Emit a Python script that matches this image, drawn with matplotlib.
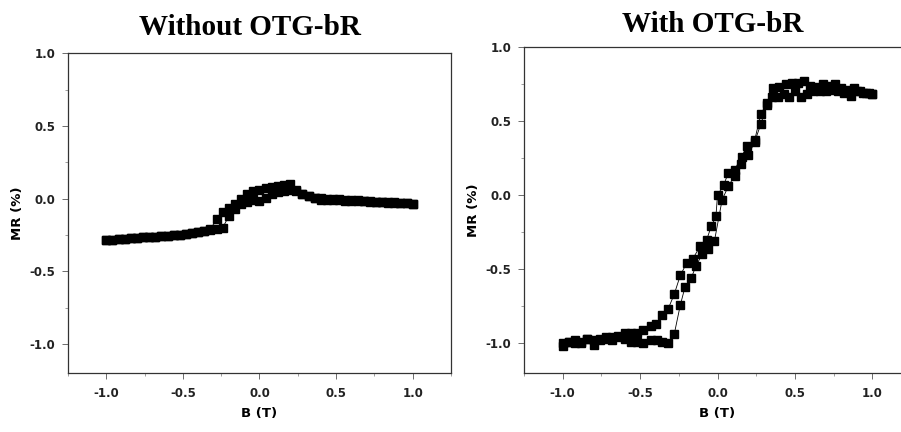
import matplotlib
matplotlib.use("Agg")
import matplotlib.pyplot as plt
from matplotlib.ticker import MultipleLocator, FormatStrFormatter

plt.rcParams["axes.unicode_minus"] = False
plt.rcParams["font.family"] = ["DejaVu Sans"]

# Without OTG-bR: sweep up (-1 -> 1) and back down (1 -> -1)
b_up_left = [-1.00, -0.96, -0.92, -0.88, -0.84, -0.80, -0.76, -0.72, -0.68, -0.64,
             -0.60, -0.56, -0.52, -0.48, -0.44, -0.40, -0.36, -0.32, -0.28, -0.24,
             -0.20, -0.16, -0.12, -0.08, -0.04, 0.00, 0.04, 0.08, 0.12, 0.16,
             0.20, 0.24, 0.28, 0.32, 0.36, 0.40, 0.44, 0.48, 0.52, 0.56,
             0.60, 0.64, 0.68, 0.72, 0.76, 0.80, 0.84, 0.88, 0.92, 0.96, 1.00]
mr_up_left = [-0.286, -0.282, -0.278, -0.275, -0.272, -0.270, -0.267, -0.264, -0.262, -0.259,
              -0.256, -0.253, -0.250, -0.246, -0.240, -0.233, -0.226, -0.219, -0.212, -0.200,
              -0.120, -0.070, -0.040, -0.020, -0.010, -0.016, 0.007, 0.035, 0.045, 0.050,
              0.060, 0.050, 0.035, 0.020, 0.005, -0.008, -0.010, -0.010, -0.012, -0.014,
              -0.016, -0.016, -0.018, -0.020, -0.022, -0.025, -0.027, -0.028, -0.030, -0.032, -0.034]
b_down_left = [1.00, 0.96, 0.92, 0.88, 0.84, 0.80, 0.76, 0.72, 0.68, 0.64,
               0.60, 0.56, 0.52, 0.48, 0.44, 0.40, 0.36, 0.32, 0.28, 0.24,
               0.20, 0.16, 0.12, 0.08, 0.04, 0.00, -0.04, -0.08, -0.12, -0.16,
               -0.20, -0.24, -0.28, -0.32, -0.36, -0.40, -0.44, -0.48, -0.52, -0.56,
               -0.60, -0.64, -0.68, -0.72, -0.76, -0.80, -0.84, -0.88, -0.92, -0.96, -1.00]
mr_down_left = [-0.034, -0.030, -0.028, -0.026, -0.024, -0.022, -0.020, -0.017, -0.015, -0.012,
                -0.010, -0.008, -0.005, -0.003, 0.000, 0.002, 0.007, 0.020, 0.035, 0.060,
                0.100, 0.094, 0.087, 0.080, 0.070, 0.060, 0.050, 0.030, 0.000, -0.040,
                -0.065, -0.090, -0.140, -0.210, -0.222, -0.230, -0.238, -0.244, -0.248, -0.252,
                -0.255, -0.258, -0.261, -0.264, -0.267, -0.270, -0.273, -0.276, -0.279, -0.282, -0.284]

# With OTG-bR
b_up_right = [-1.00, -0.96, -0.92, -0.88, -0.84, -0.80, -0.76, -0.72, -0.68, -0.64,
              -0.60, -0.56, -0.52, -0.48, -0.43, -0.39, -0.36, -0.32, -0.28, -0.24,
              -0.21, -0.17, -0.14, -0.10, -0.06, -0.02, 0.03, 0.07, 0.11, 0.15,
              0.20, 0.24, 0.28, 0.32, 0.35, 0.39, 0.43, 0.46, 0.50, 0.54,
              0.58, 0.62, 0.66, 0.70, 0.74, 0.78, 0.82, 0.86, 0.90, 0.94, 0.98, 1.00]
mr_up_right = [-1.02, -0.99, -1.00, -1.00, -0.97, -1.01, -0.98, -0.97, -0.98, -0.96,
               -0.97, -0.99, -0.99, -1.00, -0.98, -0.98, -0.99, -1.00, -0.94, -0.74,
               -0.62, -0.56, -0.48, -0.40, -0.36, -0.31, -0.03, 0.06, 0.13, 0.21,
               0.27, 0.36, 0.48, 0.61, 0.66, 0.66, 0.68, 0.66, 0.70, 0.66,
               0.68, 0.70, 0.70, 0.70, 0.71, 0.70, 0.69, 0.67, 0.70, 0.69, 0.69, 0.68]
b_down_right = [1.00, 0.96, 0.92, 0.88, 0.84, 0.80, 0.76, 0.72, 0.68, 0.64,
                0.60, 0.56, 0.52, 0.48, 0.44, 0.40, 0.36, 0.32, 0.28, 0.24,
                0.19, 0.155, 0.11, 0.07, 0.04, 0.00, -0.01, -0.04, -0.07, -0.11,
                -0.16, -0.20, -0.24, -0.28, -0.32, -0.36, -0.40, -0.43, -0.48, -0.52,
                -0.56, -0.60, -0.64, -0.68, -0.72, -0.76, -0.80, -0.84, -0.88, -0.92, -0.96, -1.00]
mr_down_right = [0.68, 0.69, 0.70, 0.72, 0.71, 0.72, 0.75, 0.74, 0.75, 0.73,
                 0.74, 0.77, 0.76, 0.76, 0.75, 0.73, 0.72, 0.62, 0.55, 0.37,
                 0.33, 0.26, 0.17, 0.15, 0.07, 0.00, -0.14, -0.21, -0.30, -0.34,
                 -0.43, -0.46, -0.54, -0.67, -0.77, -0.81, -0.87, -0.88, -0.91, -0.93,
                 -0.93, -0.93, -0.95, -0.96, -0.96, -0.97, -0.98, -0.97, -0.99, -0.98, -0.99, -1.00]

titles = ["Without OTG-bR", "With OTG-bR"]
xticks = [-1.0, -0.5, 0.0, 0.5, 1.0]
yticks = [-1.0, -0.5, 0.0, 0.5, 1.0]

fig = plt.figure(figsize=(9.01, 4.32), dpi=100)
ax1 = fig.add_axes([0.0755, 0.1366, 0.425, 0.740])
ax2 = fig.add_axes([0.5816, 0.1366, 0.4295, 0.7546])

panels = [
    (ax1, b_up_left, mr_up_left, b_down_left, mr_down_left, titles[0], 13, 0.475),
    (ax2, b_up_right, mr_up_right, b_down_right, mr_down_right, titles[1], 11, 0.488),
]

for ax, bu, mu, bd, md, title, pad, tx in panels:
    for bx, my in [(bu, mu), (bd, md)]:
        ax.plot(bx, my, color="black", lw=0.6, marker="s", markersize=5.5,
                markerfacecolor="black", markeredgecolor="black")
    ax.set_xlim(-1.25, 1.25)
    ax.set_ylim(-1.2, 1.0)
    ax.set_xticks(xticks)
    ax.set_yticks(yticks)
    ax.xaxis.set_minor_locator(MultipleLocator(0.25))
    ax.yaxis.set_minor_locator(MultipleLocator(0.25))
    ax.xaxis.set_major_formatter(FormatStrFormatter("%.1f"))
    ax.yaxis.set_major_formatter(FormatStrFormatter("%.1f"))
    ax.tick_params(which="major", direction="out", length=4, width=0.6,
                   color="#555555", labelsize=8.5, labelcolor="#222222")
    ax.tick_params(which="minor", direction="out", length=2.5, width=0.5,
                   color="#777777")
    ax.tick_params(axis="x", which="major", pad=6)
    ax.tick_params(axis="y", which="major", pad=5)
    for lbl in ax.get_xticklabels() + ax.get_yticklabels():
        lbl.set_fontweight("bold")
    for sp in ax.spines.values():
        sp.set_color("#333333")
        sp.set_linewidth(0.9)
    ax.set_xlabel("B (T)", fontsize=9.5, fontweight="bold", labelpad=5)
    ax.set_ylabel("MR (%)", fontsize=9.5, fontweight="bold", labelpad=4)
    ax.set_title(title, family=["Liberation Serif", "DejaVu Serif"],
                 fontsize=21, fontweight="bold", pad=pad, x=tx)

fig.savefig("out.png", dpi=100)
